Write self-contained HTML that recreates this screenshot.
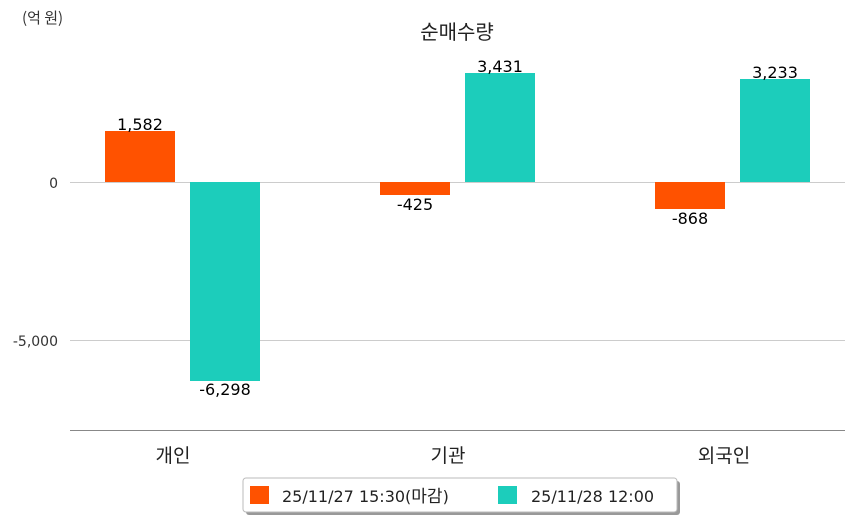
<!DOCTYPE html>
<html><head><meta charset="utf-8"><style>
body{margin:0;background:#fff;}
svg{display:block;font-family:"DejaVu Sans","Noto Sans CJK KR",sans-serif;}
.k{font-family:"Noto Sans CJK KR",sans-serif;}
</style></head><body>
<svg width="854" height="520" viewBox="0 0 854 520">
<text class="k" x="22" y="23" font-size="15" fill="#333">(억 원)</text>
<text class="k" x="457" y="39" font-size="20" fill="#222" text-anchor="middle">순매수량</text>
<line x1="70" y1="182.5" x2="845" y2="182.5" stroke="#ccc"/>
<line x1="70" y1="340.5" x2="845" y2="340.5" stroke="#ccc"/>
<line x1="70" y1="430.5" x2="845" y2="430.5" stroke="#888"/>
<text x="58" y="188" font-size="14" fill="#333" text-anchor="end">0</text>
<text x="58" y="346" font-size="14" fill="#333" text-anchor="end">-5,000</text>
<rect x="105" y="131" width="70" height="51" fill="#ff5200"/>
<rect x="190" y="182" width="70" height="199" fill="#1ccdbb"/>
<rect x="380" y="182" width="70" height="13" fill="#ff5200"/>
<rect x="465" y="73" width="70" height="109" fill="#1ccdbb"/>
<rect x="655" y="182" width="70" height="27" fill="#ff5200"/>
<rect x="740" y="79" width="70" height="103" fill="#1ccdbb"/>
<g font-size="16" fill="#000" text-anchor="middle" font-weight="500">
<text x="140" y="130">1,582</text>
<text x="225" y="395">-6,298</text>
<text x="415" y="210">-425</text>
<text x="500" y="72">3,431</text>
<text x="690" y="224">-868</text>
<text x="775" y="78">3,233</text>
</g>
<g class="k" font-size="19" fill="#222" text-anchor="middle">
<text x="173" y="462">개인</text>
<text x="448" y="462">기관</text>
<text x="724" y="462">외국인</text>
</g>
<rect x="246" y="481" width="434" height="34" rx="3" fill="#999"/>
<rect x="243" y="478" width="434" height="34" rx="3" fill="#fff" stroke="#bbb"/>
<rect x="250" y="486" width="19" height="18" fill="#ff5200"/>
<text x="282" y="502" font-size="16" fill="#222">25/11/27 15:30(<tspan class="k" font-size="17">마감</tspan>)</text>
<rect x="498" y="486" width="19" height="18" fill="#1ccdbb"/>
<text x="531" y="502" font-size="16" fill="#222">25/11/28 12:00</text>
</svg>
</body></html>
